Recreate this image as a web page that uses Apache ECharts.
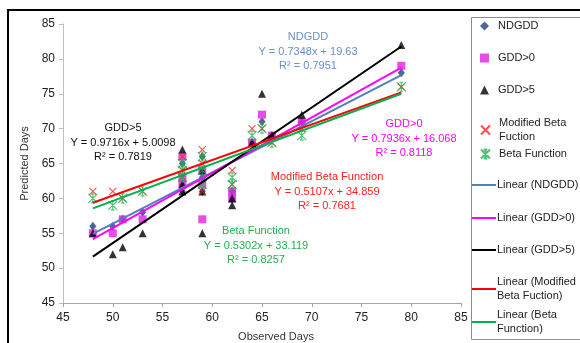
<!DOCTYPE html>
<html>
<head>
<meta charset="utf-8">
<script src="https://cdn.jsdelivr.net/npm/echarts@6/dist/echarts.min.js"></script>
<style>
	html, body { margin: 0; padding: 0; background: #fff; }
	#chart { width: 580px; height: 343px; }
</style>
</head>
<body>
<div id="chart"></div>
<script>
// observed days (x) shared by every model
const observed = [48, 50, 51, 53, 57, 57, 57, 59, 59, 59, 62, 62, 64, 65, 66, 69, 79]

// predicted days per model
const ndgdd = [56, 56, 57, 58, 65, 62, 61, 66, 63, 61, 61, 60, 68, 71, 69, 71, 78]
const gdd0 = [55, 55, 57, 57, 66, 63, 62, 57, 64, 62, 61, 60, 68, 72, 69, 71, 79]
const gdd5 = [55, 52, 53, 55, 67, 62, 61, 61, 55, 64, 60, 59, 68, 75, 69, 72, 82]
const modBeta = [61, 61, 60, 61, 66, 64, 63, 67, 61, 65, 64, 62, 70, 70, 68, 70, 76]
const beta = [60, 59, 60, 61, 65, 64, 63, 66, 64, 62, 63, 62, 69, 70, 68, 69, 76]

// trend line end points [x, y]
const trendNdgdd = [[48, 54.9], [79, 77.68]]
const trendGdd0 = [[48, 54.16], [79, 78.76]]
const trendGdd5 = [[48, 51.65], [79, 81.77]]
const trendModBeta = [[48, 59.37], [79, 75.2]]
const trendBeta = [[48, 58.57], [79, 75.0]]

const FONT = "'Liberation Sans', Arial, sans-serif"
const FS = 11

const X_PATH = 'path://M0,0L10,10M10,0L0,10'
const STAR_PATH = 'path://M0,0L10,10M10,0L0,10M5,0L5,10M3,0L7,0M3,10L7,10'

const pairs = (ys) => observed.map((x, i) => [x, ys[i]])

const chart = echarts.init(document.getElementById('chart'), null, { renderer: 'canvas' })

const legendNames = {
	'Modified Beta Fuction': 'Modified Beta\nFuction',
	'Linear (Modified Beta Fuction)': 'Linear (Modified\nBeta Fuction)',
	'Linear (Beta Function)': 'Linear (Beta\nFunction)'
}

function markerLegend(name, top) {
	return {
		data: [name],
		orient: 'vertical',
		left: 480,
		top: top,
		padding: 0,
		itemWidth: 9,
		itemHeight: 9,
		selectedMode: false,
		formatter: (n) => legendNames[n] || n,
		textStyle: { fontFamily: FONT, fontSize: FS, color: '#222', lineHeight: 14, padding: [0, 0, 0, 4] }
	}
}

function lineLegend(name, top) {
	return {
		data: [name],
		orient: 'vertical',
		left: 472,
		top: top,
		padding: 0,
		icon: 'rect',
		itemWidth: 24,
		itemHeight: 2,
		selectedMode: false,
		formatter: (n) => legendNames[n] || n,
		textStyle: { fontFamily: FONT, fontSize: FS, color: '#222', lineHeight: 14, padding: [0, 0, 0, -4] }
	}
}

function trend(name, data, color) {
	return {
		name: name,
		type: 'line',
		data: data,
		symbol: 'none',
		showSymbol: false,
		lineStyle: { color: color, width: 2 },
		itemStyle: { color: color },
		z: 3,
		silent: true
	}
}

function eqText(lines, x, y, color) {
	return lines.map((t, i) => ({
		type: 'text',
		x: x,
		y: y + i * 14.5,
		style: {
			text: t,
			fill: color,
			font: FS + 'px ' + FONT,
			align: 'center',
			verticalAlign: 'middle'
		},
		z: 10
	}))
}

const option = {
	animation: false,
	backgroundColor: '#fff',
	grid: { left: 63, right: 119, top: 24, bottom: 40, outerBoundsMode: 'none' },
	xAxis: {
		type: 'value',
		min: 45,
		max: 85,
		interval: 5,
		name: 'Observed Days',
		nameLocation: 'middle',
		nameGap: 28,
		nameTextStyle: { fontFamily: FONT, fontSize: FS, color: '#333', padding: [0, 0, 0, 28] },
		axisLine: { lineStyle: { color: '#a6a6a6' } },
		axisTick: { show: true, length: 4, lineStyle: { color: '#a6a6a6' } },
		axisLabel: { fontFamily: FONT, fontSize: FS + 1, color: '#222', margin: 9 },
		splitLine: { show: false }
	},
	yAxis: {
		type: 'value',
		min: 45,
		max: 85,
		interval: 5,
		name: 'Predicted Days',
		nameLocation: 'middle',
		nameGap: 32,
		nameTextStyle: { fontFamily: FONT, fontSize: FS, color: '#333' },
		axisLine: { show: true, lineStyle: { color: '#bfbfbf' } },
		axisTick: { show: true, length: 4, lineStyle: { color: '#bfbfbf' } },
		axisLabel: { fontFamily: FONT, fontSize: FS + 1, color: '#222', margin: 8 },
		splitLine: { show: false }
	},
	legend: [
		markerLegend('NDGDD', 19),
		markerLegend('GDD>0', 51),
		markerLegend('GDD>5', 83),
		markerLegend('Modified Beta Fuction', 116),
		markerLegend('Beta Function', 147),
		lineLegend('Linear (NDGDD)', 178),
		lineLegend('Linear (GDD>0)', 211),
		lineLegend('Linear (GDD>5)', 243),
		lineLegend('Linear (Modified Beta Fuction)', 275),
		lineLegend('Linear (Beta Function)', 308)
	],
	series: [
		{
			name: 'NDGDD',
			type: 'scatter',
			data: pairs(ndgdd),
			symbol: 'diamond',
			symbolSize: [7, 9],
			itemStyle: { color: '#1f3f78' },
			z: 2
		},
		{
			name: 'GDD>0',
			type: 'scatter',
			data: pairs(gdd0),
			symbol: 'rect',
			symbolSize: 8,
			itemStyle: { color: '#e01fe0' },
			z: 2
		},
		{
			name: 'GDD>5',
			type: 'scatter',
			data: pairs(gdd5),
			symbol: 'triangle',
			symbolSize: 8,
			itemStyle: { color: '#000' },
			z: 2
		},
		{
			name: 'Modified Beta Fuction',
			type: 'scatter',
			data: pairs(modBeta),
			symbol: X_PATH,
			symbolSize: 7,
			itemStyle: { color: 'transparent', borderColor: '#ff2020', borderWidth: 1.1 },
			z: 2
		},
		{
			name: 'Beta Function',
			type: 'scatter',
			data: pairs(beta),
			symbol: STAR_PATH,
			symbolSize: 9,
			itemStyle: { color: 'transparent', borderColor: '#20b050', borderWidth: 1.1 },
			z: 2
		},
		trend('Linear (NDGDD)', trendNdgdd, '#4f81bd'),
		trend('Linear (GDD>0)', trendGdd0, '#ff00ff'),
		trend('Linear (GDD>5)', trendGdd5, '#000000'),
		trend('Linear (Modified Beta Fuction)', trendModBeta, '#ff0000'),
		trend('Linear (Beta Function)', trendBeta, '#00b050')
	],
	graphic: [
		{ type: 'line', shape: { x1: 7, y1: 10, x2: 580, y2: 10 }, style: { stroke: '#000', lineWidth: 2 }, z: 20 },
		{ type: 'line', shape: { x1: 8, y1: 10, x2: 8, y2: 343 }, style: { stroke: '#000', lineWidth: 2 }, z: 20 },
		{ type: 'rect', shape: { x: 471.5, y: 17.5, width: 130, height: 322 }, style: { fill: 'none', stroke: '#8c8c8c', lineWidth: 1 }, z: 0 },
		...eqText(['NDGDD', 'Y = 0.7348x + 19.63', 'R\u00b2 = 0.7951'], 308, 37, '#6a8fc9'),
		...eqText(['GDD>5', 'Y = 0.9716x + 5.0098', 'R\u00b2 = 0.7819'], 123, 128, '#111'),
		...eqText(['GDD>0', 'Y = 0.7936x + 16.068', 'R\u00b2 = 0.8118'], 404, 124, '#ff00ff'),
		...eqText(['Modified Beta Function', 'Y = 0.5107x + 34.859', 'R\u00b2 = 0.7681'], 327, 177, '#ff2020'),
		...eqText(['Beta Function', 'Y = 0.5302x + 33.119', 'R\u00b2 = 0.8257'], 256, 231, '#22b04f')
	]
}

chart.setOption(option)
</script>
</body>
</html>
